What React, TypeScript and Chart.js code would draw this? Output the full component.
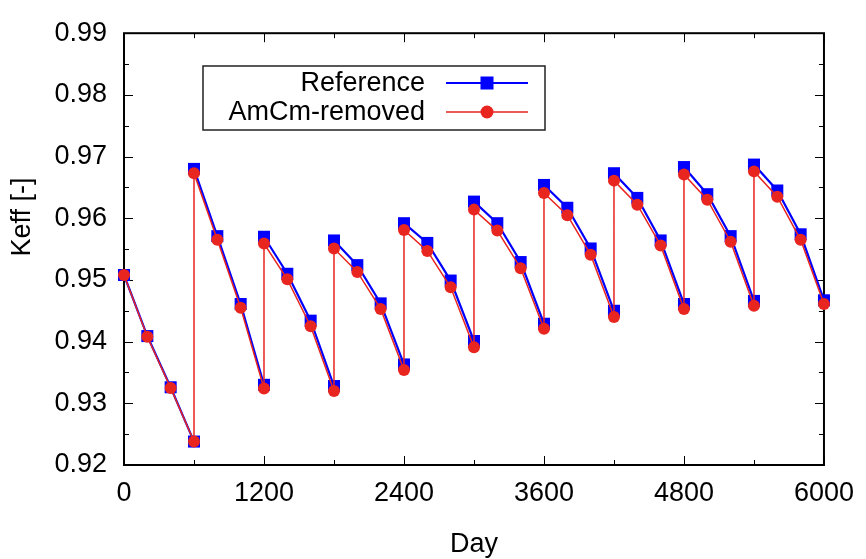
import { useEffect, useRef } from "react";
import { Chart, registerables } from "chart.js";

Chart.register(...registerables);

// ---- data ----
const days = [
  0, 200, 400, 600, 600, 800, 1000, 1200, 1200, 1400, 1600, 1800, 1800, 2000, 2200, 2400,
  2400, 2600, 2800, 3000, 3000, 3200, 3400, 3600, 3600, 3800, 4000, 4200, 4200, 4400, 4600,
  4800, 4800, 5000, 5200, 5400, 5400, 5600, 5800, 6000,
];
const referenceKeff = [
  0.9508, 0.9409, 0.9326, 0.9238, 0.968, 0.9571, 0.9461, 0.933, 0.957, 0.951, 0.9434, 0.9328,
  0.9564, 0.9524, 0.9462, 0.9363, 0.9592, 0.956, 0.9499, 0.9401, 0.9627, 0.9592, 0.9529, 0.9429,
  0.9654, 0.9617, 0.9551, 0.945, 0.9673, 0.9633, 0.9564, 0.9461, 0.9683, 0.9639, 0.9571, 0.9466,
  0.9687, 0.9645, 0.9574, 0.9467,
];
const amcmRemovedKeff = [
  0.9508, 0.9408, 0.9325, 0.9238, 0.9673, 0.9565, 0.9455, 0.9324, 0.9559, 0.9501, 0.9425, 0.932,
  0.9551, 0.9513, 0.9453, 0.9354, 0.9581, 0.9547, 0.9488, 0.9391, 0.9614, 0.958, 0.9519, 0.9421,
  0.9641, 0.9605, 0.9541, 0.944, 0.9661, 0.9622, 0.9556, 0.9453, 0.9671, 0.963, 0.9562, 0.9458,
  0.9676, 0.9635, 0.9565, 0.9461,
];
const seriesLabels = ["Reference", "AmCm-removed"];
const xTickValues = [0, 1200, 2400, 3600, 4800, 6000];
const xMinorTickValues = [600, 1800, 3000, 4200, 5400];
const yTickValues = [0.92, 0.93, 0.94, 0.95, 0.96, 0.97, 0.98, 0.99];
const yMinorTickValues = [0.925, 0.935, 0.945, 0.955, 0.965, 0.975, 0.985];
const xTitle = "Day";
const yTitle = "Keff [-]";

const FONT_FAMILY = '"Liberation Sans", Arial, Helvetica, sans-serif';
const FONT_SIZE = 27;
const BLUE = "#0000ff";
const RED = "#e8251f";

const framePlugin = {
  id: "gnuplotFrame",
  beforeDatasetsDraw(chart: any) {
    const { ctx, chartArea, scales } = chart;
    const { left, right, top, bottom } = chartArea;
    const x = scales.x;
    const y = scales.y;
    ctx.save();
    ctx.strokeStyle = "#000";
    ctx.lineWidth = 1;
    const major = 9;
    const minor = 5;
    const xt = (vals: number[], len: number) => {
      vals.forEach((v) => {
        const px = Math.round(x.getPixelForValue(v)) + 0.5;
        ctx.beginPath();
        ctx.moveTo(px, bottom);
        ctx.lineTo(px, bottom - len);
        ctx.moveTo(px, top);
        ctx.lineTo(px, top + len);
        ctx.stroke();
      });
    };
    const yt = (vals: number[], len: number) => {
      vals.forEach((v) => {
        const py = Math.round(y.getPixelForValue(v)) + 0.5;
        ctx.beginPath();
        ctx.moveTo(left, py);
        ctx.lineTo(left + len, py);
        ctx.moveTo(right, py);
        ctx.lineTo(right - len, py);
        ctx.stroke();
      });
    };
    xt(xTickValues, major);
    xt(xMinorTickValues, minor);
    yt(yTickValues, major);
    yt(yMinorTickValues, minor);
    ctx.lineWidth = 2;
    ctx.strokeRect(left, top, right - left, bottom - top);

    // axis titles
    ctx.fillStyle = "#000";
    ctx.font = `${FONT_SIZE}px ${FONT_FAMILY}`;
    ctx.textAlign = "center";
    ctx.textBaseline = "alphabetic";
    ctx.fillText(xTitle, (left + right) / 2, 552);
    ctx.save();
    ctx.translate(30, 217);
    ctx.rotate(-Math.PI / 2);
    ctx.fillText(yTitle, 0, 0);
    ctx.restore();
    ctx.restore();
  },
  afterDatasetsDraw(chart: any) {
    const { ctx } = chart;
    ctx.save();
    // legend box
    ctx.strokeStyle = "#222";
    ctx.lineWidth = 1.5;
    ctx.strokeRect(203, 66, 342, 64);
    const rows = [83, 112];
    const colors = [BLUE, RED];
    const widths = [2, 1.5];
    ctx.font = `${FONT_SIZE}px ${FONT_FAMILY}`;
    ctx.textAlign = "right";
    ctx.textBaseline = "middle";
    seriesLabels.forEach((lab, i) => {
      const ry = rows[i];
      ctx.fillStyle = "#000";
      ctx.fillText(lab, 425, ry + 1);
      ctx.strokeStyle = colors[i];
      ctx.lineWidth = widths[i];
      ctx.beginPath();
      ctx.moveTo(446, ry);
      ctx.lineTo(528, ry);
      ctx.stroke();
      ctx.fillStyle = colors[i];
      if (i === 0) {
        ctx.fillRect(487 - 6.5, ry - 6.5, 13, 13);
      } else {
        ctx.beginPath();
        ctx.arc(487, ry, 6.5, 0, Math.PI * 2);
        ctx.fill();
      }
    });
    ctx.restore();
  },
};

export default function App() {
  const ref = useRef<HTMLCanvasElement | null>(null);
  useEffect(() => {
    document.body.style.margin = "0";
    const canvas = ref.current;
    if (!canvas) return;
    const font = { family: FONT_FAMILY, size: FONT_SIZE };
    const chart = new Chart(canvas, {
      type: "line",
      data: {
        datasets: [
          {
            label: seriesLabels[0],
            data: days.map((d, i) => ({ x: d, y: referenceKeff[i] })),
            borderColor: BLUE,
            backgroundColor: BLUE,
            borderWidth: 2.2,
            pointStyle: "rect",
            pointRadius: 8.5,
            pointBorderWidth: 0,
            pointBackgroundColor: BLUE,
            tension: 0,
            clip: false,
            order: 2,
            segment: {
              borderColor: (c: any) =>
                c.p0.parsed.x === c.p1.parsed.x ? "rgba(0,0,0,0)" : undefined,
            },
          },
          {
            label: seriesLabels[1],
            data: days.map((d, i) => ({ x: d, y: amcmRemovedKeff[i] })),
            borderColor: RED,
            backgroundColor: RED,
            borderWidth: 1.5,
            pointStyle: "circle",
            pointRadius: 6,
            pointBorderWidth: 0,
            pointBackgroundColor: RED,
            tension: 0,
            clip: false,
            order: 1,
          },
        ],
      } as any,
      options: {
        animation: false,
        responsive: false,
        events: [],
        layout: { padding: { top: 22, right: 41, left: 0, bottom: 0 } },
        plugins: { legend: { display: false }, tooltip: { enabled: false } },
        scales: {
          x: {
            type: "linear",
            min: 0,
            max: 6000,
            grid: { display: false, drawTicks: false },
            border: { display: false },
            afterBuildTicks: (s: any) => {
              s.ticks = xTickValues.map((v) => ({ value: v }));
            },
            afterFit: (s: any) => {
              s.height = 94;
            },
            ticks: {
              font,
              color: "#000",
              padding: 12,
              maxRotation: 0,
              autoSkip: false,
              callback: (v: any) => String(v),
            },
          },
          y: {
            type: "linear",
            min: 0.92,
            max: 0.99,
            grid: { display: false, drawTicks: false },
            border: { display: false },
            afterBuildTicks: (s: any) => {
              s.ticks = yTickValues.map((v) => ({ value: v }));
            },
            afterFit: (s: any) => {
              s.width = 124;
            },
            ticks: {
              font,
              color: "#000",
              padding: 17,
              autoSkip: false,
              callback: (v: any) => Number(v).toFixed(2),
            },
          },
        },
      } as any,
      plugins: [framePlugin],
    });
    return () => chart.destroy();
  }, []);
  return (
    <div style={{ width: 866, height: 559 }}>
      <canvas ref={ref} width={866} height={559} style={{ display: "block" }} />
    </div>
  );
}
